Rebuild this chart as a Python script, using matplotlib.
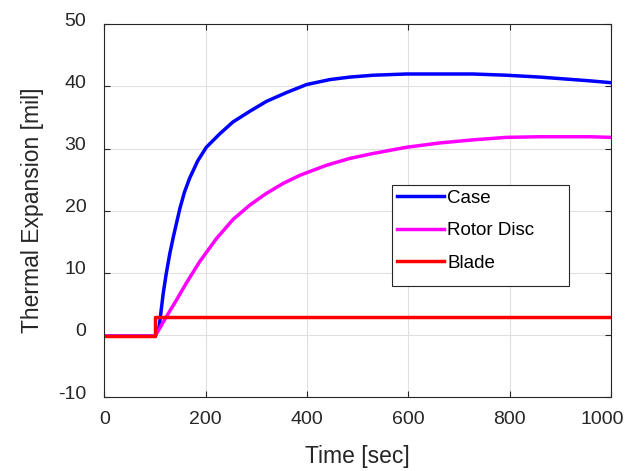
import numpy as np
import matplotlib
matplotlib.use("Agg")
import matplotlib.pyplot as plt
import matplotlib.transforms as mtransforms
from matplotlib.patches import Rectangle

# values (time in sec, expansion in mil)
t_case = [0, 100, 108, 116, 122, 129, 136, 149, 158, 168, 184, 201, 228,
          254, 287, 320, 359, 399, 445, 484, 530, 596, 662, 728, 794, 860,
          958, 1000]
case = [-0.2, -0.2, 1.3, 6.7, 9.9, 13.1, 15.8, 20.4, 23.0, 25.2, 28.0,
        30.2, 32.4, 34.3, 36.0, 37.6, 39.0, 40.3, 41.1, 41.5, 41.8, 42.0,
        42.0, 42.0, 41.8, 41.5, 40.9, 40.6]

t_disc = [0, 100, 122, 142, 162, 188, 221, 254, 287, 320, 353, 386, 438,
          484, 530, 596, 662, 728, 794, 860, 958, 1000]
disc = [-0.2, -0.2, 2.9, 5.6, 8.4, 11.8, 15.5, 18.6, 20.9, 22.8, 24.4,
        25.7, 27.3, 28.4, 29.2, 30.2, 30.9, 31.4, 31.8, 31.9, 31.9, 31.8]

t_blade = [0, 100, 100, 1000]
blade = [-0.2, -0.2, 2.9, 2.9]

labels = ["Case", "Rotor Disc", "Blade"]

plt.rcParams.update({
    "font.family": ["Liberation Sans", "DejaVu Sans"],
    "axes.unicode_minus": False,
    "axes.edgecolor": "0.15",
    "axes.linewidth": 0.8,
    "xtick.color": "0.15", "ytick.color": "0.15",
    "xtick.direction": "in", "ytick.direction": "in",
    "xtick.top": True, "ytick.right": True,
    "xtick.major.size": 4, "ytick.major.size": 4,
})

fig = plt.figure(figsize=(6.26, 4.71), dpi=100)
ax = fig.add_axes([0.1669, 0.1571, 0.8091, 0.7913])

ax.plot(t_case, case, color=(0, 0, 1), lw=2.5, label=labels[0])
ax.plot(t_disc, disc, color=(1, 0, 1), lw=2.5, label=labels[1])
ax.plot(t_blade, blade, color=(1, 0, 0), lw=2.5, label=labels[2])

ax.set_xlim(0, 1000)
ax.set_ylim(-10, 50)
ax.set_xticks(np.arange(0, 1001, 200))
ax.set_yticks(np.arange(-10, 51, 10))
ax.tick_params(axis="x", labelsize=14, pad=10)
ax.tick_params(axis="y", labelsize=14, pad=13)
ax.grid(True, color="0.88", lw=0.8)
ax.set_axisbelow(True)

# matlab-like label nudges
for lab in ax.get_yticklabels():
    lab.set_transform(lab.get_transform() +
                      mtransforms.ScaledTranslation(0, 0.05, fig.dpi_scale_trans))
xl = ax.get_xticklabels()
xl[-1].set_transform(xl[-1].get_transform() +
                     mtransforms.ScaledTranslation(-0.09, 0, fig.dpi_scale_trans))

ax.set_xlabel("Time [sec]", fontsize=16.5, color="0.15", labelpad=12.5)
ax.set_ylabel("Thermal Expansion [mil]", fontsize=16.5, color="0.15", labelpad=10)

# legend box drawn separately (matlab style padding)
ax.add_patch(Rectangle((0.567, 0.298), 0.351, 0.272, transform=ax.transAxes,
                       facecolor="white", edgecolor="0.15", lw=0.8, zorder=4))
leg = ax.legend(loc="upper left", bbox_to_anchor=(0.567, 0.570),
                fontsize=13.5, handlelength=2.5, handletextpad=0.2,
                labelspacing=0.82, borderpad=0.27, borderaxespad=0,
                frameon=False)
leg.set_zorder(5)

fig.savefig("out.png", dpi=100)
